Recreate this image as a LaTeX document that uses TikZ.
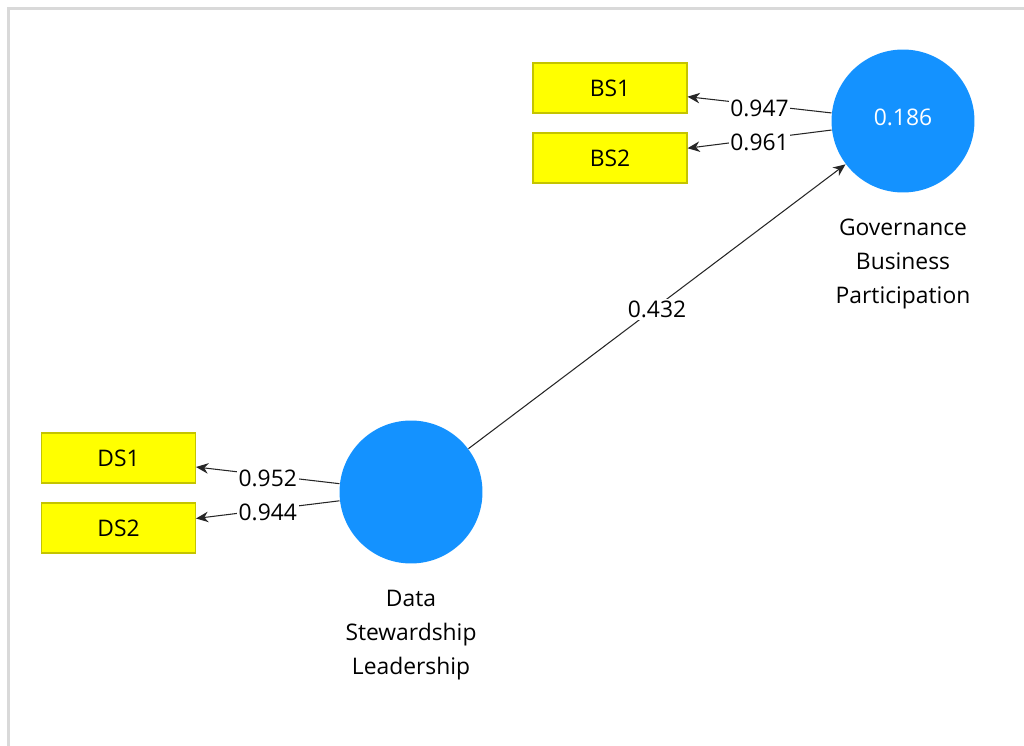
\documentclass[tikz,border=0pt]{standalone}
\usepackage{fontspec}
\setmainfont{Open Sans}
\usetikzlibrary{
    arrows.meta,
    positioning
}
\definecolor{lvblue}{RGB}{20,146,255}
\definecolor{indyellow}{RGB}{255,255,0}
\definecolor{indborder}{RGB}{196,196,0}
\definecolor{framegray}{RGB}{217,217,217}
\tikzset{
  every path/.style={
    line width=0.6pt
  },
  every node/.style={
    font=\fontsize{13pt}{19.3pt}\selectfont,
    inner sep=1.5pt
  },
  latent/.style={
    circle,
    fill=lvblue,
    text=white,
    minimum size=2.86cm
  },
  indicator/.style={
    rectangle,
    draw=indborder,
    fill=indyellow,
    minimum width=3.08cm,
    minimum height=1cm
  },
  caption/.style={
    align=center
  },
  loading/.style={
    fill=white,
    inner sep=1pt,
    yshift=-1.8pt
  },
  path arrow/.style={
    draw=black!85,
    -{Stealth[length=7pt,width=6pt]}
  }
}

\begin{document}
\begin{tikzpicture}[x=0.02cm, y=-0.02cm]
    \useasboundingbox (0,0) rectangle (1024,746);
    \draw[framegray, line width=1.2pt] (1024,8.5) -- (8.5,8.5) -- (8.5,746);

    % latent variables
    \node[latent, label={[text=white, yshift=2.3pt]center:0.186}] (GBP) at (903,121) {};
    \node[latent] (DSL) at (411,492) {};
    \node[caption] (GBPlab) at (903,264) {Governance\\Business\\Participation};
    \node[caption] (DSLlab) at (411,635) {Data\\Stewardship\\Leadership};

    % indicators
    \node[indicator] (BS1) at (610,88) {BS1};
    \node[indicator] (BS2) at (610,158) {BS2};
    \node[indicator] (DS1) at (118.5,458) {DS1};
    \node[indicator] (DS2) at (118.5,528) {DS2};

    % outer loadings
    \draw[path arrow] (GBP) -- node[loading] {0.947} (BS1);
    \draw[path arrow] (GBP) -- node[loading] {0.961} (BS2);
    \draw[path arrow] (DSL) -- node[loading] {0.952} (DS1);
    \draw[path arrow] (DSL) -- node[loading] {0.944} (DS2);

    % path coefficient
    \draw[path arrow] (DSL) -- node[loading] {0.432} (GBP);
\end{tikzpicture}
\end{document}
